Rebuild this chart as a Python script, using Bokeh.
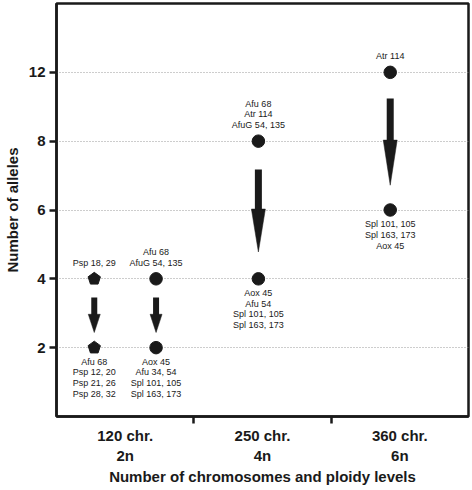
import math
from bokeh.plotting import figure
from bokeh.models import Range1d, FixedTicker
from bokeh.core.properties import value
from bokeh.embed import file_html
from bokeh.resources import INLINE

# ---------------- data ----------------
categories = ["120 chr.", "250 chr.", "360 chr."]
ploidy = ["2n", "4n", "6n"]
allele_ticks = [2, 4, 6, 8, 12]

series_category = ["120 chr.", "120 chr.", "250 chr.", "360 chr."]
series_marker = ["pentagon", "circle", "circle", "circle"]
alleles_before = [4, 4, 8, 12]
alleles_after = [2, 2, 4, 6]
labels_before = [
    "Psp 18, 29",
    "Afu 68\nAfuG 54, 135",
    "Afu 68\nAtr 114\nAfuG 54, 135",
    "Atr 114",
]
labels_after = [
    "Afu 68\nPsp 12, 20\nPsp 21, 26\nPsp 28, 32",
    "Aox 45\nAfu 34, 54\nSpl 101, 105\nSpl 163, 173",
    "Aox 45\nAfu 54\nSpl 101, 105\nSpl 163, 173",
    "Spl 101, 105\nSpl 163, 173\nAox 45",
]

# ---------------- styles ----------------
x_offsets = [-0.225, 0.225, -0.03, -0.07]     # dodge within category
arrow_gap_top = [0.27, 0.27, 0.41, 0.38]        # y-units below upper point
arrow_gap_bottom = [0.22, 0.22, 0.39, 0.36]     # y-units above lower point
arrow_shaft_px = [6, 6, 7, 7]
arrow_head_half_px = [6, 6, 7, 7]
head_fraction = 0.52

W, H = 472, 490
ML, MR, MT, MB = 55, 4, 3, 74
frame_w = W - ML - MR
frame_h = H - MT - MB
x_start, x_end = 0, len(categories)
y_start, y_end = -1, len(allele_ticks)
px_x = frame_w / (x_end - x_start)
px_y = frame_h / (y_end - y_start)

FONT = "Liberation Sans"
INK = "#1a1a1a"

p = figure(width=W, height=H, output_backend="svg", toolbar_location=None,
           title=None, x_range=Range1d(x_start, x_end), y_range=Range1d(y_start, y_end),
           min_border_left=ML, min_border_right=MR, min_border_top=MT,
           min_border_bottom=MB)
p.background_fill_color = "white"
p.border_fill_color = "white"
p.outline_line_color = INK
p.outline_line_width = 2.5

# y axis (ordinal spacing of allele levels)
ypos = {v: i for i, v in enumerate(allele_ticks)}
p.yaxis.ticker = FixedTicker(ticks=list(range(len(allele_ticks))))
p.yaxis.major_label_overrides = {i: str(v) for i, v in enumerate(allele_ticks)}
p.yaxis.axis_label = "Number of alleles"
p.yaxis.minor_tick_line_color = None
p.yaxis.major_tick_in = 0
p.yaxis.major_tick_out = 7
p.yaxis.major_label_standoff = 4
p.yaxis.axis_label_standoff = 5

# x axis (categories with boundary ticks)
xcenters = [i + 0.5 for i in range(len(categories))]
p.xaxis.ticker = FixedTicker(ticks=xcenters, minor_ticks=list(range(1, len(categories))))
p.xaxis.major_label_overrides = {c: f"{cat}\n{pl}" for c, cat, pl in zip(xcenters, categories, ploidy)}
p.xaxis.axis_label = "Number of chromosomes and ploidy levels"
p.xaxis.major_tick_line_color = None
p.xaxis.major_tick_in = 0
p.xaxis.major_tick_out = 5
p.xaxis.minor_tick_in = 0
p.xaxis.minor_tick_out = 7
p.xaxis.minor_tick_line_color = INK
p.xaxis.minor_tick_line_width = 2.5
p.xaxis.major_label_standoff = 3
p.xaxis.axis_label_standoff = 1

for ax in (p.xaxis, p.yaxis):
    ax.axis_line_color = INK
    ax.axis_line_width = 2.5
    ax.major_tick_line_width = 2.5
    ax.major_label_text_font = FONT
    ax.major_label_text_font_style = "bold"
    ax.major_label_text_font_size = "15px"
    ax.major_label_text_color = INK
    ax.axis_label_text_font = FONT
    ax.axis_label_text_font_style = "bold"
    ax.axis_label_text_font_size = "15px"
    ax.axis_label_text_color = INK
p.yaxis.major_tick_line_color = INK

p.xgrid.grid_line_color = None
p.ygrid.ticker = FixedTicker(ticks=list(range(len(allele_ticks))))
p.ygrid.grid_line_color = "#9a9a9a"
p.ygrid.grid_line_dash = "1 2"
p.ygrid.grid_line_width = 1

# ---------------- marks ----------------
xs = [categories.index(c) + 0.5 + o for c, o in zip(series_category, x_offsets)]
yb = [ypos[v] for v in alleles_before]
ya = [ypos[v] for v in alleles_after]

# arrows
head_xs, head_ys = [], []
for x, y0, y1, gt, gb, sw, hh in zip(xs, yb, ya, arrow_gap_top, arrow_gap_bottom,
                                      arrow_shaft_px, arrow_head_half_px):
    top = y0 - gt
    tip = y1 + gb
    head_start = tip + (top - tip) * head_fraction
    p.segment(x0=[x], y0=[top], x1=[x], y1=[head_start - 0.02], line_width=sw,
              line_color=INK, line_cap="butt")
    hw = hh / px_x
    head_xs.append([x - hw, x + hw, x])
    head_ys.append([head_start, head_start, tip])
p.patches(head_xs, head_ys, fill_color=INK, line_color=INK, line_width=0.5)

# points
r_pent = 6.5
for x, m, y_pair in zip(xs, series_marker, zip(yb, ya)):
    for y in y_pair:
        if m == "pentagon":
            vx = [x + r_pent * math.cos(math.radians(90 + 72 * k)) / px_x for k in range(5)]
            vy = [y + r_pent * math.sin(math.radians(90 + 72 * k)) / px_y for k in range(5)]
            p.patch(vx, vy, fill_color=INK, line_color=INK)
        else:
            p.scatter([x], [y], marker="circle", size=12.5, fill_color=INK, line_color=INK)

# labels
p.text(x=xs, y=yb, text=labels_before, text_align="center", text_baseline="bottom",
       y_offset=-11, text_font=value(FONT), text_font_size="9px",
       text_line_height=1.08, text_color=INK)
p.text(x=xs, y=ya, text=labels_after, text_align="center", text_baseline="top",
       y_offset=9, text_font=value(FONT), text_font_size="9px",
       text_line_height=1.08, text_color=INK)

open("out.html", "w").write(file_html(p, INLINE))
